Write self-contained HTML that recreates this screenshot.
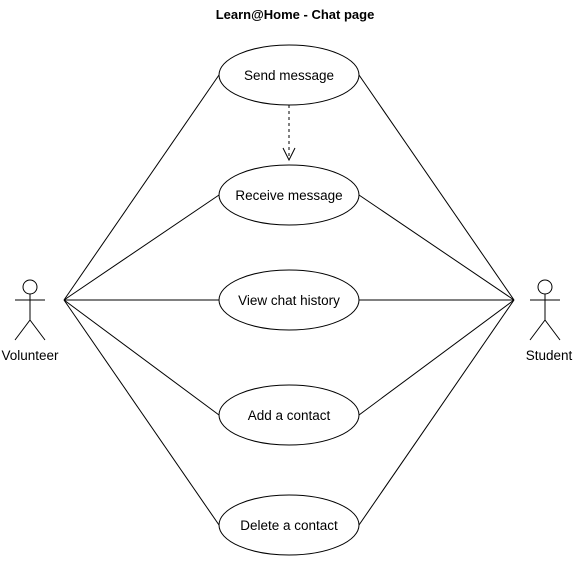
<!DOCTYPE html>
<html><head><meta charset="utf-8"><style>body{margin:0;background:#fff}</style></head><body>
<svg width="574" height="561" xmlns="http://www.w3.org/2000/svg" font-family="Liberation Sans, sans-serif" font-size="13.5">
<rect width="574" height="561" fill="#fff"/>
<text x="295" y="19" text-anchor="middle" font-weight="bold" font-size="13">Learn@Home - Chat page</text>
<g stroke="#000" fill="none" stroke-width="1">
<line x1="64" y1="300" x2="219" y2="75"/><line x1="64" y1="300" x2="219" y2="195"/><line x1="64" y1="300" x2="219" y2="300"/><line x1="64" y1="300" x2="219" y2="415"/><line x1="64" y1="300" x2="219" y2="525"/>
<line x1="514" y1="300" x2="359" y2="75"/><line x1="514" y1="300" x2="359" y2="195"/><line x1="514" y1="300" x2="359" y2="300"/><line x1="514" y1="300" x2="359" y2="415"/><line x1="514" y1="300" x2="359" y2="525"/>
<line x1="289" y1="105" x2="289" y2="159" stroke-dasharray="3,3"/>
<polyline points="283,148 289,160 295,148"/>
<g fill="#fff">
<ellipse cx="289" cy="75" rx="70" ry="30"/><ellipse cx="289" cy="195" rx="70" ry="30"/><ellipse cx="289" cy="300" rx="70" ry="30"/><ellipse cx="289" cy="415" rx="70" ry="30"/><ellipse cx="289" cy="525" rx="70" ry="30"/>
<circle cx="30" cy="287" r="7"/><circle cx="545" cy="287" r="7"/>
</g>
<path d="M30 294V320M15 300H45M30 320L15 340M30 320L45 340"/>
<path d="M545 294V320M530 300H560M545 320L530 340M545 320L560 340"/>
</g>
<g text-anchor="middle" fill="#000">
<text x="289" y="80">Send message</text><text x="289" y="200">Receive message</text><text x="289" y="305">View chat history</text><text x="289" y="420">Add a contact</text><text x="289" y="530">Delete a contact</text>
<text x="30" y="360">Volunteer</text><text x="549" y="360">Student</text>
</g>
</svg>
</body></html>
